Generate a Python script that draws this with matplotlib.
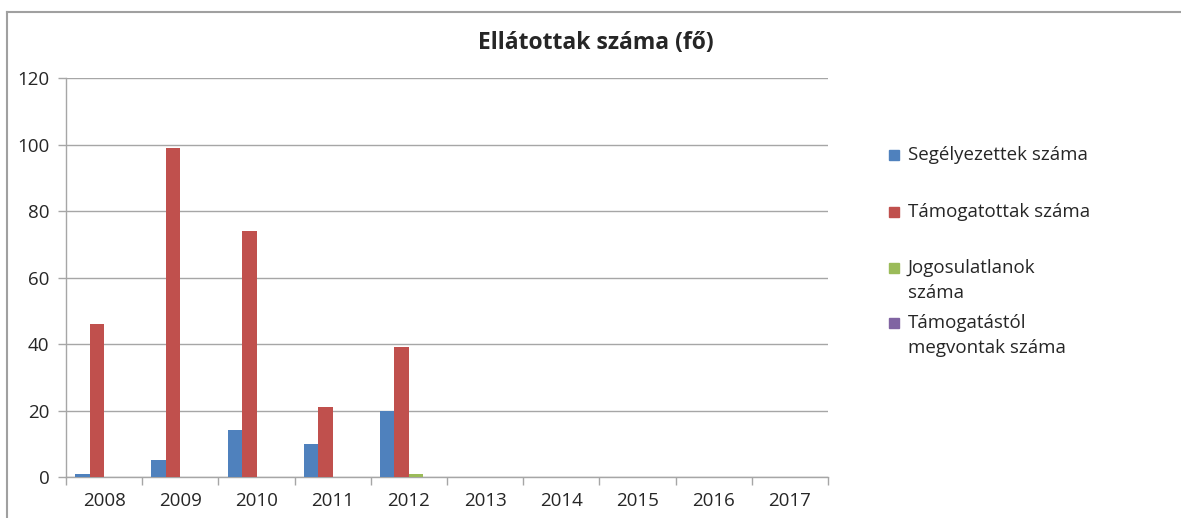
import numpy as np
import matplotlib.pyplot as plt
from matplotlib.patches import Rectangle
from matplotlib.lines import Line2D

plt.rcParams['font.family'] = ['Open Sans', 'DejaVu Sans']

years = ['2008', '2009', '2010', '2011', '2012', '2013', '2014', '2015', '2016', '2017']
segelyezettek = [1, 5, 14, 10, 20, 0, 0, 0, 0, 0]
tamogatottak = [46, 99, 74, 21, 39, 0, 0, 0, 0, 0]
jogosulatlanok = [0, 0, 0, 0, 1, 0, 0, 0, 0, 0]
megvontak = [0, 0, 0, 0, 0, 0, 0, 0, 0, 0]

series = [segelyezettek, tamogatottak, jogosulatlanok, megvontak]
labels = ['Segélyezettek száma', 'Támogatottak száma',
          'Jogosulatlanok\nszáma', 'Támogatástól\nmegvontak száma']
colors = ['#4F81BD', '#C0504D', '#9BBB59', '#8064A2']

W, H = 1181, 518
fig = plt.figure(figsize=(W / 100, H / 100), dpi=100)
ax = fig.add_axes([66 / W, 1 - 477 / H, (828 - 66) / W, (477 - 78) / H])

grid_c = '#A6A6A6'
txt_c = '#262626'
x = np.arange(len(years))
w = 0.19
for k, (vals, col) in enumerate(zip(series, colors)):
    ax.bar(x + (k - 1.5) * w, vals, width=w, color=col, zorder=3)

ax.set_xlim(-0.5, len(years) - 0.5)
ax.set_ylim(0, 120)
ax.set_yticks(range(0, 121, 20))
ax.yaxis.grid(True, color=grid_c, linewidth=1, zorder=0)

ax.set_xticks(x)
ax.set_xticklabels(years, fontsize=13.5, color=txt_c)
ax.set_xticks(np.arange(-0.5, len(years)), minor=True)
ax.tick_params(axis='x', which='major', length=0, pad=11)
ax.tick_params(axis='x', which='minor', length=6, color=grid_c, width=1)
ax.tick_params(axis='y', length=6, color=grid_c, width=1, labelsize=13.5,
               labelcolor=txt_c, pad=6)

for s in ['top', 'right']:
    ax.spines[s].set_visible(False)
for s in ['left', 'bottom']:
    ax.spines[s].set_color(grid_c)
    ax.spines[s].set_linewidth(1)

fig.text(596 / W, 1 - 43 / H, 'Ellátottak száma (fő)', ha='center', va='center',
         fontsize=16.5, fontweight='bold', color=txt_c)

# legend, drawn by hand so the marker sits on the first text line
leg_y = [155, 212, 268, 323]
for lab, col, yy in zip(labels, colors, leg_y):
    fig.add_artist(Rectangle((889 / W, 1 - (yy + 5) / H), 10 / W, 10 / H,
                             transform=fig.transFigure, color=col))
    for j, line in enumerate(lab.split('\n')):
        fig.text(908 / W, 1 - (yy + j * 25) / H, line, ha='left', va='center',
                 fontsize=13.5, color=txt_c)

# outer chart frame (cropped)
fig.add_artist(Line2D([7 / W, 1], [1 - 12 / H, 1 - 12 / H], transform=fig.transFigure,
                      color='#A0A0A0', linewidth=1.5))
fig.add_artist(Line2D([7 / W, 7 / W], [0, 1 - 12 / H], transform=fig.transFigure,
                      color='#A0A0A0', linewidth=1.5))

fig.savefig('out.png', dpi=100)
